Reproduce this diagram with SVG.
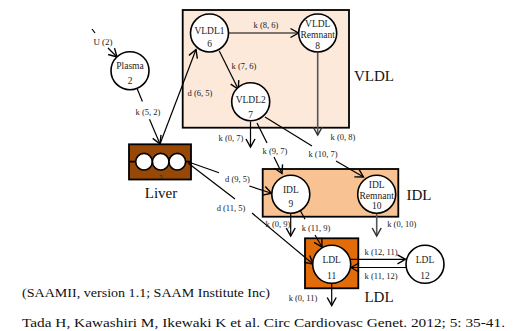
<svg xmlns="http://www.w3.org/2000/svg" width="518" height="331" viewBox="0 0 518 331" font-family="'Liberation Serif', 'DejaVu Serif', serif">
<defs>
<marker id="ah" markerUnits="userSpaceOnUse" markerWidth="12" markerHeight="12" viewBox="0 0 12 12" refX="9" refY="6" orient="auto">
<path d="M1,1.5 L9,6 L1,10.5" fill="none" stroke="#000" stroke-width="1.4"/>
</marker>
<marker id="ahg" markerUnits="userSpaceOnUse" markerWidth="12" markerHeight="12" viewBox="0 0 12 12" refX="9" refY="6" orient="auto">
<path d="M1,1.5 L9,6 L1,10.5" fill="none" stroke="#333" stroke-width="1.5"/>
</marker>
</defs>
<style>
text{font-family:'Liberation Serif','DejaVu Serif',serif;fill:#222;text-anchor:middle}
.nt{font-size:9.5px}
.lb{font-size:8.5px}
.big{font-size:15px;fill:#111}
.cap{font-size:13.5px;fill:#111;text-anchor:start}
.c{fill:#fff;stroke:#000;stroke-width:1.6}
.box{stroke:#000;stroke-width:1.8}
.e{fill:none;stroke:#000;stroke-width:1.2}
.a{fill:none;stroke:#000;stroke-width:1.2;marker-end:url(#ah)}
.g{fill:none;stroke:#555;stroke-width:1.6;marker-end:url(#ahg)}
</style>

<g id="VLDL">
<rect class="box" x="182.7" y="10" width="166.3" height="117.7" fill="#fce9da"/>
<text class="big" x="374" y="81">VLDL</text>
</g>
<g id="IDL">
<rect class="box" x="262.7" y="169" width="135.6" height="47.7" fill="#f9c292"/>
<text class="big" x="419" y="199.5">IDL</text>
</g>
<g id="LDLbox">
<rect class="box" x="305" y="238.3" width="53.3" height="50" fill="#e36c0a"/>
<text class="big" x="379" y="302">LDL</text>
</g>
<g id="liver">
<rect class="box" x="129" y="144.3" width="62" height="35.2" fill="#974806"/>
<line x1="129" y1="161.7" x2="191" y2="161.7" stroke="#000" stroke-width="1.8"/>
<circle class="c" cx="144" cy="161.7" r="8.3"/>
<circle class="c" cx="160.7" cy="161.7" r="8.3"/>
<circle class="c" cx="177.3" cy="161.7" r="8.3"/>
<text x="161" y="178.5" style="font-size:7px">5</text>
<text class="big" x="161" y="197.5">Liver</text>
</g>

<g id="connectors">
<line class="e" x1="92" y1="29" x2="95" y2="33"/>
<text class="lb" x="103" y="45" style="font-size:9px">U (2)</text>
<line class="a" x1="108" y1="48" x2="117" y2="57"/>

<line class="e" x1="137.1" y1="88.6" x2="142.4" y2="101.6"/>
<line class="a" x1="149.5" y1="119.2" x2="160" y2="144"/>
<text class="lb" x="148" y="114.7">k (5, 2)</text>

<line class="a" x1="160" y1="144" x2="196" y2="49.5"/>
<text class="lb" x="200" y="96.3">d (6, 5)</text>

<line class="a" x1="228" y1="33" x2="298.5" y2="33"/>
<text class="lb" x="266" y="28">k (8, 6)</text>

<line class="a" x1="219.3" y1="51" x2="238.3" y2="89.3"/>
<text class="lb" x="244" y="69">k (7, 6)</text>

<line class="g" x1="317.7" y1="52.5" x2="317.7" y2="135"/>
<text class="lb" x="343" y="139.7">k (0, 8)</text>

<line class="a" x1="250.5" y1="121.5" x2="250.5" y2="147"/>
<text class="lb" x="231" y="140.7">k (0, 7)</text>

<line class="e" x1="257" y1="123" x2="267" y2="143"/>
<line class="a" x1="274" y1="157" x2="282" y2="173.5"/>
<text class="lb" x="275" y="154">k (9, 7)</text>

<line class="e" x1="265" y1="117" x2="312" y2="146"/>
<line class="a" x1="336" y1="161" x2="363.5" y2="177"/>
<text class="lb" x="323" y="157.3">k (10, 7)</text>

<line class="e" x1="189.3" y1="162.3" x2="219" y2="172.7"/>
<line class="a" x1="249.3" y1="186" x2="271.5" y2="193.3"/>
<text class="lb" x="237.5" y="182">d (9, 5)</text>

<line class="e" x1="188" y1="163" x2="235" y2="199"/>
<line class="a" x1="252" y1="213" x2="313" y2="264"/>
<text class="lb" x="231" y="211">d (11, 5)</text>

<line class="a" x1="290.7" y1="213" x2="290.7" y2="236"/>
<text class="lb" x="278" y="227.3">k (0, 9)</text>

<line class="e" x1="300" y1="210" x2="305" y2="219.3"/>
<line class="a" x1="315" y1="235" x2="322" y2="247"/>
<text class="lb" x="316" y="231.3">k (11, 9)</text>

<line class="g" x1="376.7" y1="213.5" x2="376.7" y2="236"/>
<text class="lb" x="401.7" y="227.3">k (0, 10)</text>

<line class="a" x1="350" y1="259.3" x2="405.5" y2="259.3"/>
<text class="lb" x="381" y="254.7">k (12, 11)</text>
<line class="a" x1="406" y1="267.5" x2="351" y2="267.5"/>
<text class="lb" x="381" y="279">k (11, 12)</text>

<line class="a" x1="331.7" y1="283.5" x2="331.7" y2="305.5"/>
<text class="lb" x="303" y="300.7">k (0, 11)</text>
</g>

<g id="plasma">
<circle class="c" cx="130" cy="70.7" r="19"/>
<text class="nt" x="130" y="69">Plasma</text>
<text class="nt" x="130" y="84.3">2</text>
</g>
<g id="vldl1">
<circle class="c" cx="209.5" cy="33" r="19"/>
<text class="nt" x="209.5" y="33.5">VLDL1</text>
<text class="nt" x="209.5" y="46.7">6</text>
</g>
<g id="vldlrem">
<circle class="c" cx="317.7" cy="33" r="19"/>
<text class="nt" x="317.7" y="27.3">VLDL</text>
<text class="nt" x="317.7" y="38.3">Remnant</text>
<text class="nt" x="317.7" y="49">8</text>
</g>
<g id="vldl2">
<circle class="c" cx="250.7" cy="101.7" r="19"/>
<text class="nt" x="250.7" y="103.3">VLDL2</text>
<text class="nt" x="250.7" y="117.6">7</text>
</g>
<g id="idl9">
<circle class="c" cx="290.8" cy="194.2" r="19"/>
<text class="nt" x="290.8" y="192.6">IDL</text>
<text class="nt" x="290.8" y="207.3">9</text>
</g>
<g id="idlrem">
<circle class="c" cx="376.7" cy="194.2" r="19"/>
<text class="nt" x="376.7" y="188.3">IDL</text>
<text class="nt" x="376.7" y="199">Remnant</text>
<text class="nt" x="376.7" y="209">10</text>
</g>
<g id="ldl11">
<circle class="c" cx="331.7" cy="264.3" r="19"/>
<text class="nt" x="331.7" y="263.3">LDL</text>
<text class="nt" x="331.7" y="279.3">11</text>
</g>
<g id="ldl12">
<circle class="c" cx="425" cy="264.3" r="19"/>
<text class="nt" x="425" y="263.3">LDL</text>
<text class="nt" x="425" y="279.3">12</text>
</g>

<g id="captions">
<text class="cap" x="22" y="297" textLength="248" lengthAdjust="spacingAndGlyphs">(SAAMII, version 1.1; SAAM Institute Inc)</text>
<text class="cap" x="22" y="327" textLength="483" lengthAdjust="spacingAndGlyphs">Tada H, Kawashiri M, Ikewaki K et al. Circ Cardiovasc Genet. 2012; 5: 35-41.</text>
</g>
</svg>
